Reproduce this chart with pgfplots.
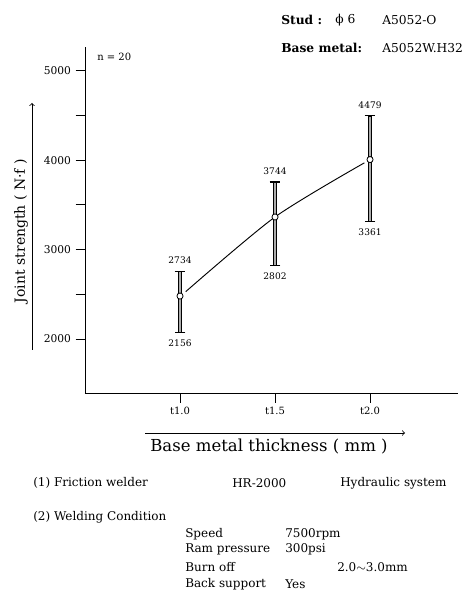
\documentclass[border=0pt]{standalone}
\usepackage{pgfplots}
\pgfplotsset{compat=1.18}
\usepackage{fontspec}
\setmainfont{DejaVu Serif}
\newcommand\fs[1]{\fontsize{#1}{#1}\selectfont}
\begin{document}
\begin{tikzpicture}
\path[use as bounding box] (0,0) rectangle (348pt,456pt);
\begin{axis}[
  at={(63.75pt,161pt)}, anchor=south west,
  scale only axis, width=279.75pt, height=259.7pt,
  xmin=-1, xmax=2.926, ymin=1393, ymax=5265,
  axis x line*=bottom, axis y line*=left,
  axis line style={-, line width=0.7pt},
  xtick={0,1,2}, xticklabels={t1.0,t1.5,t2.0},
  ytick={2000,3000,4000,5000}, minor ytick={2500,3500,4500},
  tick align=outside, major tick length=7pt, minor tick length=7pt,
  tick style={line width=0.7pt, black},
  /pgf/number format/assume math mode=true,
  /pgf/number format/1000 sep={},
  yticklabel style={font=\fs{8}},
  xticklabel style={font=\fs{7.5}},
  clip=false,
]
% error bars: dark outline
\addplot[only marks, mark=none, black,
  error bars/.cd, y dir=both, y explicit,
  error bar style={line width=3pt, black},
  error mark=-,
  error mark options={rotate=90, line width=0.8pt, mark size=4pt, black}]
  coordinates {
  (0,2481) += (0,279) -= (0,406)
  (1,3365) += (0,391) -= (0,541)
  (2,4007) += (0,489) -= (0,690)
  };
% error bars: light inner
\addplot[only marks, mark=none,
  error bars/.cd, y dir=both, y explicit,
  error bar style={line width=1.4pt, gray!65},
  error mark=none]
  coordinates {
  (0,2481) += (0,271) -= (0,398)
  (1,3365) += (0,383) -= (0,533)
  (2,4007) += (0,481) -= (0,682)
  };
% mean line
\addplot[black, line width=0.7pt, smooth, tension=0.45, mark=none]
  coordinates {(0.06,2530) (1,3365) (1.94,3970)};
\addplot[only marks, mark=*, mark size=2.3pt, mark options={fill=white, draw=black, line width=0.6pt}]
  coordinates {(0,2481) (1,3365) (2,4007)};
% value labels
\node[font=\fs{6.8}] at (axis cs:0,2760) [above=2pt] {2734};
\node[font=\fs{6.8}] at (axis cs:0,2075) [below=2pt] {2156};
\node[font=\fs{6.8}] at (axis cs:1,3756) [above=2pt] {3744};
\node[font=\fs{6.8}] at (axis cs:1,2824) [below=2pt] {2802};
\node[font=\fs{6.8}] at (axis cs:2,4496) [above=2pt] {4479};
\node[font=\fs{6.8}] at (axis cs:2,3317) [below=2pt] {3361};
\end{axis}
\begin{scope}[x=0.75pt, y=-0.75pt, shift={(0,456pt)}]
  \node[anchor=west, font=\fs{7.5}, inner sep=0] at (97,57) {n = 20};
  \node[anchor=west, font=\fs{9.2}\bfseries, inner sep=0] at (281,20) {Stud :};
  \node[anchor=west, font=\fs{9.2}, inner sep=0] at (335,20) {ϕ 6};
  \node[anchor=west, font=\fs{9.2}, inner sep=0] at (382,20) {A5052-O};
  \node[anchor=west, font=\fs{9.2}\bfseries, inner sep=0] at (281,48) {Base metal:};
  \node[anchor=west, font=\fs{9.2}, inner sep=0] at (382,48) {A5052W.H32};
  % y label and arrow
  \node[rotate=90, font=\fs{10.5}, inner sep=0] at (21,231) {Joint strength ( N·f )};
  \draw[->, line width=0.6pt] (32,350) -- (32,103);
  % x label and arrow
  \draw[->, line width=0.6pt] (145,433) -- (405,433);
  \node[font=\fs{12.4}, inner sep=0] at (269,447) {Base metal thickness ( mm )};
  % conditions
  \begin{scope}[every node/.style={anchor=west, font=\fs{9}, inner sep=0}]
  \node at (33,483) {(1) Friction welder};
  \node at (232,483) {HR-2000};
  \node at (340,483) {Hydraulic system};
  \node at (33,517) {(2) Welding Condition};
  \node at (185,534) {Speed};
  \node at (285,534) {7500rpm};
  \node at (185,549) {Ram pressure};
  \node at (285,549) {300psi};
  \node at (185,567) {Burn off};
  \node at (337,567) {2.0$\sim$3.0mm};
  \node at (185,584) {Back support};
  \node at (285,584) {Yes};
  \end{scope}
\end{scope}
\end{tikzpicture}
\end{document}
